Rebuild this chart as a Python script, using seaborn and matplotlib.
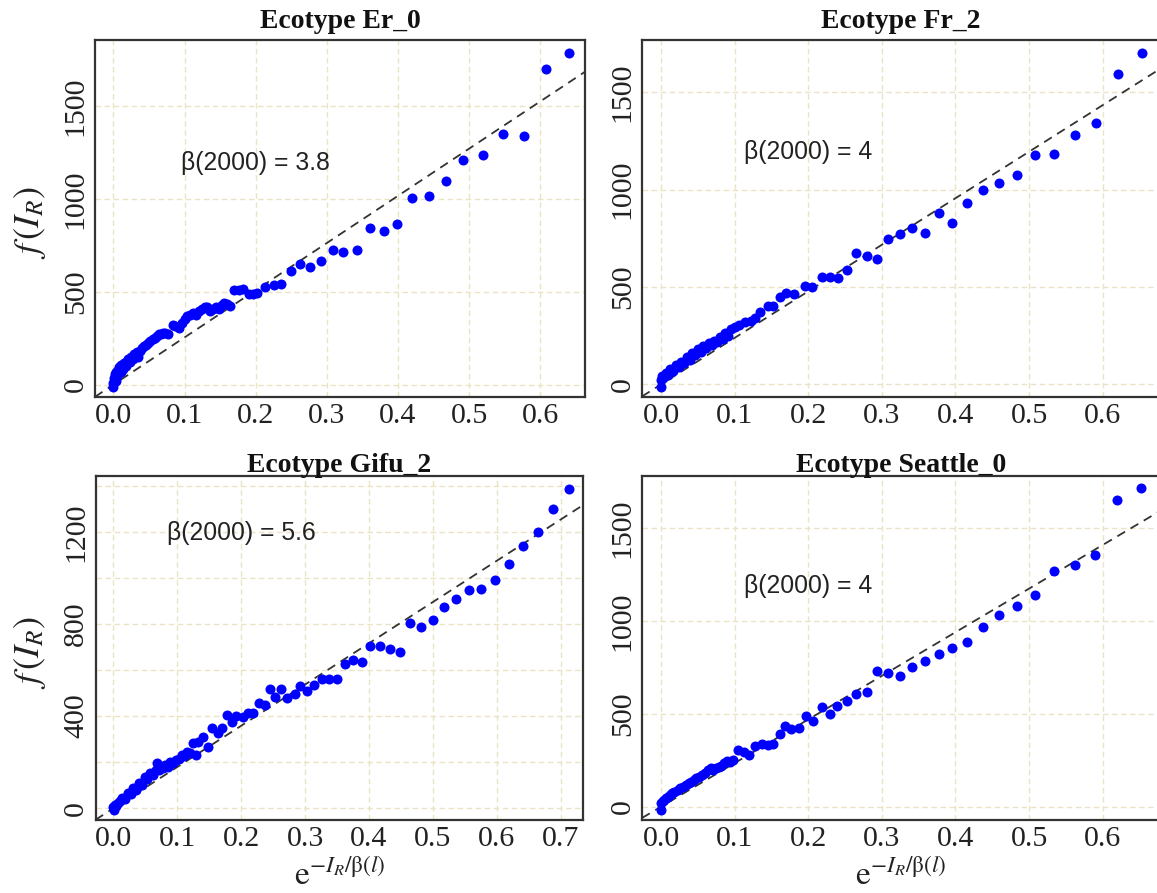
import numpy as np
import pandas as pd
import matplotlib
matplotlib.use("Agg")
import matplotlib.pyplot as plt
import seaborn as sns

# ---------------- data ----------------
titles = ["Ecotype Er_0", "Ecotype Fr_2", "Ecotype Gifu_2", "Ecotype Seattle_0"]
beta_labels = ["β(2000) = 3.8", "β(2000) = 4", "β(2000) = 5.6", "β(2000) = 4"]
slopes = [2540, 2390, 1790, 2350]

er0_x = [0.000, 0.000, 0.001, 0.002, 0.003, 0.004, 0.005, 0.006, 0.008, 0.010, 0.011, 0.013,
         0.015, 0.017, 0.019, 0.021, 0.023, 0.025, 0.027, 0.029, 0.031, 0.033, 0.035, 0.037,
         0.040, 0.043, 0.046, 0.049, 0.052, 0.055, 0.058, 0.061, 0.064, 0.067, 0.070, 0.073,
         0.076, 0.083, 0.087, 0.092, 0.096, 0.100, 0.104, 0.108, 0.112, 0.116, 0.120, 0.124,
         0.128, 0.132, 0.136, 0.140, 0.144, 0.148, 0.152, 0.156, 0.160, 0.164,
         0.170, 0.176, 0.182, 0.190, 0.196, 0.202, 0.213, 0.225, 0.236, 0.249, 0.2625, 0.277,
         0.292, 0.308, 0.323, 0.342, 0.360, 0.380, 0.399, 0.420, 0.444, 0.468, 0.492, 0.519,
         0.547, 0.577, 0.608, 0.641]
er0_y = [-15, 10, 35, 55, 20, 70, 45, 80, 95, 70, 105, 85,
         115, 100, 125, 135, 120, 150, 140, 165, 160, 175, 150, 180,
         195, 205, 215, 225, 235, 245, 250, 262, 270, 272, 275, 278,
         270, 320, 315, 305, 330, 355, 370, 375, 385, 375, 395, 405,
         420, 415, 395, 405, 415, 405, 430, 440, 435, 425,
         508, 510, 512, 490, 485, 494, 526, 535, 544, 612, 648, 634,
         666, 727, 715, 727, 841, 826, 862, 1002, 1015, 1097, 1209, 1236,
         1349, 1338, 1697, 1787]

fr2_x = [0.000, 0.000, 0.001, 0.003, 0.006, 0.009, 0.012, 0.016, 0.020, 0.024, 0.027, 0.031,
         0.035, 0.039, 0.042, 0.046, 0.050, 0.054, 0.057, 0.061, 0.065, 0.069, 0.072, 0.076,
         0.080, 0.084, 0.087, 0.091, 0.095, 0.100, 0.106, 0.114, 0.122, 0.128, 0.134, 0.145,
         0.152, 0.162, 0.170, 0.180, 0.195, 0.205, 0.218, 0.230, 0.240, 0.253, 0.2655, 0.2795,
         0.2935, 0.309, 0.324, 0.341, 0.358, 0.377, 0.395, 0.416, 0.437, 0.459, 0.483, 0.508,
         0.534, 0.562, 0.591, 0.621, 0.653]
fr2_y = [-12, 20, 45, 35, 60, 50, 80, 70, 100, 90, 115, 110,
         140, 125, 160, 150, 180, 165, 195, 185, 210, 200, 225, 215,
         245, 235, 262, 250, 285, 295, 305, 322, 327, 340, 373, 402,
         402, 450, 471, 465, 505, 498, 550, 550, 548, 590, 676, 659,
         642, 745, 771, 805, 779, 878, 830, 933, 998, 1036, 1075, 1178,
         1183, 1281, 1344, 1595, 1704]

gifu2_x = [0.000, 0.001, 0.002, 0.004, 0.007, 0.010, 0.014, 0.018, 0.023, 0.027, 0.031, 0.036,
           0.040, 0.044, 0.049, 0.053, 0.057, 0.062, 0.066, 0.069, 0.072, 0.077, 0.081, 0.085,
           0.089, 0.094, 0.098, 0.103, 0.107, 0.111, 0.115, 0.120, 0.124, 0.130, 0.133, 0.141,
           0.148, 0.154, 0.1635, 0.1704, 0.1774, 0.185, 0.1925, 0.2023, 0.211, 0.2186, 0.228,
           0.237, 0.2458, 0.2527, 0.263, 0.272, 0.2835, 0.292, 0.3026, 0.314, 0.3258, 0.337,
           0.350, 0.363, 0.375, 0.3896, 0.402, 0.4168, 0.4325, 0.4487, 0.465, 0.4817, 0.4997,
           0.518, 0.537, 0.556, 0.576, 0.5965, 0.6186, 0.641, 0.664, 0.688, 0.7136]
gifu2_y = [7, -7, 15, 10, 22, 30, 43, 40, 65, 60, 87, 80,
           108, 100, 137, 125, 152, 145, 166, 195, 165, 175, 188, 180,
           202, 195, 210, 215, 231, 225, 246, 240, 282, 231, 289, 311,
           267, 347, 325, 347, 405, 376, 400, 398, 412, 415, 455,
           448, 516, 481, 516, 477, 496, 532, 509, 535, 560, 561,
           561, 625, 643, 636, 705, 705, 691, 677, 802, 788, 817,
           875, 907, 947, 951, 990, 1058, 1139, 1200, 1298, 1384]

sea0_x = [0.000, 0.000, 0.002, 0.004, 0.006, 0.009, 0.012, 0.0148, 0.018, 0.0223, 0.026, 0.030,
          0.034, 0.0373, 0.041, 0.0448, 0.048, 0.052, 0.056, 0.0598, 0.064, 0.0673, 0.071,
          0.0748, 0.078, 0.082, 0.086, 0.0898, 0.093, 0.097, 0.1048, 0.1122, 0.1197, 0.127,
          0.137, 0.1446, 0.152, 0.161, 0.1687, 0.177, 0.187, 0.197, 0.207, 0.218, 0.2296,
          0.2396, 0.253, 0.2655, 0.2795, 0.2935, 0.3086, 0.3245, 0.341, 0.358, 0.377, 0.395,
          0.416, 0.438, 0.459, 0.483, 0.508, 0.534, 0.562, 0.590, 0.620, 0.652]
sea0_y = [-18, 18, 30, 36, 45, 54, 62, 72, 80, 90, 98, 108,
          118, 126, 135, 144, 152, 162, 172, 180, 195, 207, 200,
          207, 215, 220, 235, 248, 240, 252, 306, 297, 279, 328,
          337, 333, 338, 391, 432, 418, 423, 490, 459, 535, 500,
          545, 571, 607, 617, 729, 720, 702, 751, 783, 824, 855,
          886, 967, 1035, 1084, 1143, 1269, 1300, 1355, 1651, 1715]

xs = [er0_x, fr2_x, gifu2_x, sea0_x]
ys = [er0_y, fr2_y, gifu2_y, sea0_y]

x_ticks = [[0, .1, .2, .3, .4, .5, .6], [0, .1, .2, .3, .4, .5, .6],
           [0, .1, .2, .3, .4, .5, .6, .7], [0, .1, .2, .3, .4, .5, .6]]
y_ticks = [[0, 500, 1000, 1500], [0, 500, 1000, 1500],
           [0, 200, 400, 600, 800, 1000, 1200, 1400], [0, 500, 1000, 1500]]
y_ticklabels = [["0", "500", "1000", "1500"], ["0", "500", "1000", "1500"],
                ["0", "", "400", "", "800", "", "1200", ""], ["0", "500", "1000", "1500"]]
xlims = [(-0.026, 0.663), (-0.026, 0.678), (-0.028, 0.735), (-0.026, 0.678)]
ylims = [(-67, 1855), (-65, 1769), (-51, 1442), (-72, 1782)]

# ---------------- layout (pixels) ----------------
W, H = 1157, 893
sns.set_style("white")
plt.rcParams["mathtext.fontset"] = "stix"
plt.rcParams["font.family"] = ["Liberation Serif", "DejaVu Serif"]

fig = plt.figure(figsize=(W / 100, H / 100), dpi=100)

boxes = [(95, 585, 40, 397), (642, 1160, 40, 397), (95.5, 583, 476, 820), (642, 1160, 476, 820)]
title_pos = [(340, 28), (901, 28), (339, 471.5), (901, 471.5)]
beta_pos = [(181, 170), (743.6, 159), (167.4, 540), (743.6, 593)]
ylab_pos = [(29.6, 222), None, (29.6, 652), None]
xlab_pos = [None, None, (340, 885), (901, 885)]


def fx(px):
    return px / W


def fy(py):
    return 1 - py / H


grid_col = "#EAE3C4"
for i in range(4):
    l, r, t, b = boxes[i]
    ax = fig.add_axes([fx(l), fy(b), (r - l) / W, (b - t) / H])
    df = pd.DataFrame({"x": xs[i], "y": ys[i]})
    ax.set_xlim(*xlims[i])
    ax.set_ylim(*ylims[i])
    ax.set_xticks(x_ticks[i])
    ax.set_xticklabels([f"{v:.1f}" for v in x_ticks[i]])
    ax.set_yticks(y_ticks[i])
    ax.set_yticklabels(y_ticklabels[i], rotation=90, va="center")
    ax.grid(True, color=grid_col, linestyle=(0, (4, 2.5)), linewidth=1.0, zorder=0)
    ax.set_axisbelow(True)
    ax.axline((0, 0), slope=slopes[i], color="#333333", linestyle=(0, (5, 3.5)),
              linewidth=1.3, zorder=2)
    sns.scatterplot(data=df, x="x", y="y", ax=ax, color="#0000FF", s=52,
                    linewidth=0, zorder=3, legend=False)
    ax.set_xlabel("")
    ax.set_ylabel("")
    for sp in ax.spines.values():
        sp.set_color("#333333")
        sp.set_linewidth(1.6)
    ax.tick_params(axis="x", direction="out", length=8, width=1.2, color="#333333",
                   pad=-3.5, labelsize=21.5, labelcolor="#222222")
    ax.tick_params(axis="y", direction="out", length=5.5, width=1.2, color="#333333",
                   pad=-1.0, labelsize=21.5, labelcolor="#222222")
    fig.text(fx(title_pos[i][0]), fy(title_pos[i][1]), titles[i], ha="center",
             va="baseline", fontsize=20, fontweight="bold", color="#111111")
    fig.text(fx(beta_pos[i][0]), fy(beta_pos[i][1]), beta_labels[i], ha="left",
             va="baseline", fontsize=17.8, family=["Liberation Sans", "DejaVu Sans"],
             color="#222222")
    if ylab_pos[i] is not None:
        fig.text(fx(ylab_pos[i][0]), fy(ylab_pos[i][1]), r"$f\,(I_R)$", rotation=90,
                 ha="center", va="center", fontsize=26, color="#222222")
    if xlab_pos[i] is not None:
        fig.text(fx(xlab_pos[i][0]), fy(xlab_pos[i][1]), r"$\mathrm{e}^{-I_R/\mathrm{\beta}(l)}$",
                 ha="center", va="baseline", fontsize=24, color="#222222")

fig.savefig("out.png", dpi=100)
